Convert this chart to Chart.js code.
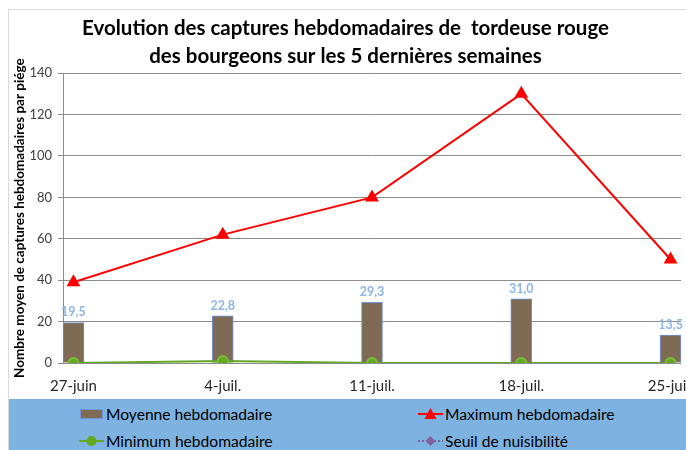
<!DOCTYPE html>
<html>
<head>
<meta charset="utf-8">
<script src="https://cdn.jsdelivr.net/npm/chart.js@4.4.1/dist/chart.umd.min.js"></script>
<style>
  html, body { margin: 0; padding: 0; background: #fff; width: 686px; height: 450px; overflow: hidden; }
  #frame { position: absolute; left: 8px; top: 9px; width: 740px; height: 480px; border: 1px solid #d9d9d9; box-sizing: border-box; }
  #wrap { position: absolute; left: 0; top: 0; width: 700px; height: 401px; }
  #legend { position: absolute; left: 9px; top: 399px; width: 740px; height: 60px; background: #7eb3e1;
            font-family: Lato, sans-serif; font-size: 15.6px; color: #000; }
  .item { position: absolute; display: flex; align-items: center; height: 20px; white-space: nowrap; }
  .item svg { margin-right: 2px; }
</style>
</head>
<body>
<div id="frame"></div>
<div id="wrap"><canvas id="chart"></canvas></div>
<div id="legend"></div>
<script>
// données
var semaines = ['27-juin', '4-juil.', '11-juil.', '18-juil.', '25-juil.'];
var moyenne  = [19.5, 22.8, 29.3, 31.0, 13.5];
var maximum  = [39, 62, 80, 130, 50];
var minimum  = [0, 1, 0, 0, 0];
var seuil    = [null, null, null, null, null]; // aucune valeur tracée
var yTicks   = [0, 20, 40, 60, 80, 100, 120, 140];

function pts(arr) {
  return arr.map(function (v, i) { return { x: i, y: v }; });
}
function fmt(v) { return v.toFixed(1).replace('.', ','); }

Chart.defaults.font.family = 'Lato, sans-serif';

// étiquettes de valeur au-dessus des barres
var barLabels = {
  id: 'barLabels',
  afterDatasetsDraw: function (chart) {
    var meta = chart.getDatasetMeta(0);
    var ctx = chart.ctx;
    ctx.save();
    ctx.font = 'bold 12.5px Lato, sans-serif';
    ctx.fillStyle = '#8db6e2';
    ctx.textAlign = 'center';
    ctx.textBaseline = 'bottom';
    meta.data.forEach(function (bar, i) {
      ctx.fillText(fmt(moyenne[i]), bar.x, bar.y - 4);
    });
    ctx.restore();
  }
};

var datasets = [
  {
    type: 'bar', label: 'Moyenne hebdomadaire', data: pts(moyenne), order: 2,
    backgroundColor: '#7f6a53', borderColor: '#7094dc', borderWidth: 1, barThickness: 21
  },
  {
    type: 'line', label: 'Maximum hebdomadaire', data: pts(maximum), order: 1,
    borderColor: '#ff0000', backgroundColor: '#ff0000', borderWidth: 2,
    pointStyle: 'triangle', pointRadius: 6
  },
  {
    type: 'line', label: 'Minimum hebdomadaire', data: pts(minimum), order: 1,
    borderColor: '#63a822', backgroundColor: '#62a91f', borderWidth: 2,
    pointStyle: 'circle', pointRadius: 5, pointBorderColor: '#7cbc3c'
  },
  {
    type: 'line', label: 'Seuil de nuisibilité', data: pts(seuil), order: 1,
    borderColor: '#7f5fa8', backgroundColor: '#8064a2', borderWidth: 2, borderDash: [2, 2],
    pointStyle: 'rectRot', pointRadius: 5
  }
];

new Chart(document.getElementById('chart').getContext('2d'), {
  type: 'bar',
  data: { datasets: datasets },
  options: {
    responsive: true,
    maintainAspectRatio: false,
    animation: false,
    layout: { padding: { left: 10, right: 19, top: 0, bottom: 0 } },
    plugins: {
      legend: { display: false },
      tooltip: { enabled: false },
      title: {
        display: true,
        text: ['Evolution des captures hebdomadaires de  tordeuse rouge', 'des bourgeons sur les 5 dernières semaines'],
        color: '#000',
        font: { size: 20.5, weight: 'bold', lineHeight: 1.37 },
        padding: { top: 14, bottom: 3 }
      }
    },
    scales: {
      x: {
        type: 'linear',
        offset: false,
        min: -0.07,
        max: 4.07,
        grid: { display: false, offset: false },
        border: { display: false },
        ticks: {
          stepSize: 1,
          includeBounds: false,
          autoSkip: false,
          maxRotation: 0,
          padding: 6,
          color: '#262626',
          font: { size: 15 },
          callback: function (v) { return semaines[v]; }
        }
      },
      y: {
        min: 0,
        max: 140,
        afterFit: function (scale) { scale.width = 53; },
        afterBuildTicks: function (scale) {
          scale.ticks = yTicks.map(function (v) { return { value: v }; });
        },
        grid: { color: '#8c8c8c', tickLength: 5 },
        border: { color: '#8c8c8c' },
        ticks: { padding: 6, color: '#404040', font: { size: 13 } },
        title: {
          display: true,
          text: 'Nombre moyen de captures hebdomadaires par piége',
          color: '#000',
          font: { size: 13.5, weight: 'bold' },
          padding: { top: 2, bottom: 4 }
        }
      }
    }
  },
  plugins: [barLabels]
});

// légende sur fond bleu, construite depuis les séries
var legendPos = [[70, 5], [409, 5], [70, 32], [409, 32]];
function marker(ds) {
  var s = '<svg width="25" height="14" viewBox="0 0 25 14">';
  if (ds.type === 'bar') {
    s += '<rect x="1.5" y="2.5" width="22" height="9" fill="' + ds.backgroundColor + '" stroke="' + ds.borderColor + '"/>';
  } else {
    var dash = ds.borderDash ? ' stroke-dasharray="2 2"' : '';
    s += '<line x1="0" y1="7" x2="25" y2="7" stroke="' + ds.borderColor + '" stroke-width="2"' + dash + '/>';
    if (ds.pointStyle === 'triangle') s += '<polygon points="12.5,1 18.5,12 6.5,12" fill="' + ds.backgroundColor + '"/>';
    if (ds.pointStyle === 'circle') s += '<circle cx="12.5" cy="7" r="5" fill="' + ds.backgroundColor + '"/>';
    if (ds.pointStyle === 'rectRot') s += '<polygon points="12.5,2 17.5,7 12.5,12 7.5,7" fill="' + ds.backgroundColor + '"/>';
  }
  return s + '</svg>';
}
var legend = document.getElementById('legend');
datasets.forEach(function (ds, i) {
  var d = document.createElement('div');
  d.className = 'item';
  d.style.left = legendPos[i][0] + 'px';
  d.style.top = legendPos[i][1] + 'px';
  d.innerHTML = marker(ds) + '<span>' + ds.label + '</span>';
  legend.appendChild(d);
});
</script>
</body>
</html>
